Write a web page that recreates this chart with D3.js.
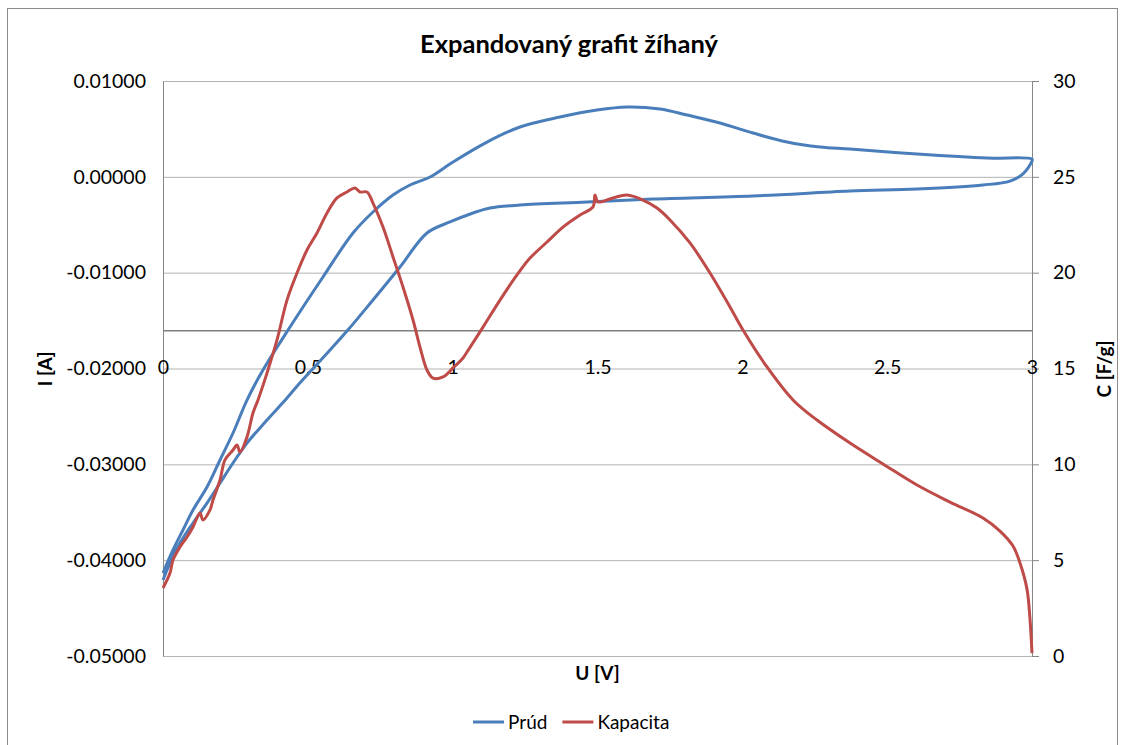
<!DOCTYPE html>
<meta charset="utf-8">
<body style="margin:0;background:#fff">
<div class="chart"></div>
<script src="https://cdnjs.cloudflare.com/ajax/libs/d3/7.8.5/d3.min.js"></script>
<script>

    // Prúd: CV loop, [U (V), I (A)], anodic sweep 0 -> 3 V
    const prudForward = [
        [0, -0.04134], [0.0345, -0.03894], [0.069, -0.03685], [0.1036, -0.03477],
        [0.1519, -0.03237], [0.1968, -0.02955], [0.2417, -0.02673], [0.29, -0.02329],
        [0.3452, -0.02016], [0.4384, -0.01567], [0.5523, -0.01045], [0.6559, -0.00586],
        [0.7249, -0.00367], [0.794, -0.0019], [0.8527, -0.00085], [0.9217, -0.00002],
        [1.0011, 0.00155], [1.1185, 0.00363], [1.2324, 0.0052], [1.3705, 0.00624],
        [1.4983, 0.00697], [1.6018, 0.00729], [1.7157, 0.00708], [1.809, 0.00645],
        [1.9229, 0.00562], [2.0368, 0.00457], [2.1542, 0.00363], [2.2681, 0.00311],
        [2.3717, 0.0029], [2.603, 0.00238], [2.8446, 0.00196], [3.0, 0.00186]
    ];
    // cathodic sweep 3 -> 0 V
    const prudReverse = [
        [3.0, 0.00165], [2.9689, 0.0003], [2.924, -0.00044], [2.8308, -0.00085],
        [2.603, -0.00127], [2.3717, -0.00148], [2.0368, -0.002], [1.6916, -0.00231],
        [1.4637, -0.00263], [1.2324, -0.00294], [1.1289, -0.00325], [1.0702, -0.00377],
        [0.9908, -0.00471], [0.9114, -0.00586], [0.8182, -0.00941], [0.7249, -0.01285],
        [0.6352, -0.01609], [0.542, -0.01922], [0.4626, -0.02185], [0.4281, -0.02308],
        [0.359, -0.02538], [0.29, -0.02778], [0.2417, -0.02986], [0.1968, -0.03195],
        [0.1519, -0.03404], [0.1036, -0.03612], [0.0587, -0.03821], [0.0242, -0.0403],
        [0, -0.04207]
    ];
    // Kapacita: [U (V), C (F/g)]
    const kapacita = [
        [0, 3.55], [0.0242, 4.33], [0.0345, 5.01], [0.0587, 5.69], [0.0829, 6.21],
        [0.1036, 6.73], [0.1277, 7.46], [0.1381, 7.1], [0.1623, 7.62], [0.1726, 8.14],
        [0.1968, 9.18], [0.214, 10.23], [0.2417, 10.75], [0.2555, 11.01], [0.2658, 10.64],
        [0.29, 11.43], [0.3107, 12.68], [0.328, 13.36], [0.359, 14.76], [0.3936, 16.49],
        [0.4281, 18.57], [0.4626, 19.98], [0.4971, 21.18], [0.5316, 22.07], [0.5662, 23.11],
        [0.6007, 23.9], [0.6352, 24.21], [0.6628, 24.42], [0.6801, 24.21], [0.7042, 24.21],
        [0.7249, 23.63], [0.7595, 22.38], [0.794, 20.82], [0.8285, 19.25], [0.8631, 17.53],
        [0.8872, 16.12], [0.9114, 14.92], [0.9321, 14.5], [0.9666, 14.56], [1.0011, 15.03],
        [1.0357, 15.55], [1.0495, 15.86], [1.1047, 17.16], [1.1634, 18.57], [1.2221, 19.88],
        [1.267, 20.76], [1.3257, 21.6], [1.3809, 22.38], [1.4396, 23.01], [1.4845, 23.43],
        [1.4914, 24.05], [1.5017, 23.69], [1.5535, 23.9], [1.6018, 24.05], [1.6571, 23.79],
        [1.7054, 23.37], [1.7503, 22.75], [1.8193, 21.55], [1.8884, 19.98], [1.9574, 18.21],
        [2.0023, 17.01], [2.0851, 15.08], [2.1749, 13.36], [2.2577, 12.31], [2.3717, 11.11],
        [2.4856, 10.02], [2.603, 8.92], [2.7169, 8.03], [2.8308, 7.2], [2.8895, 6.52],
        [2.9344, 5.74], [2.9586, 4.85], [2.9827, 3.49], [2.9931, 1.93], [3.0, 0.15]
    ];

    const uTicks = [0, 0.5, 1, 1.5, 2, 2.5, 3];
    const iTicks = [0.01, 0, -0.01, -0.02, -0.03, -0.04, -0.05];
    const cTicks = [30, 25, 20, 15, 10, 5, 0];
    const axisCross = 17; // horizontal axis crosses the secondary axis here

    const series = [
        {name: "Prúd", color: "#4a7ebb"},
        {name: "Kapacita", color: "#be4b48"}
    ];

    let margin = {top: 81, right: 91, bottom: 89, left: 163};
    let width = 1123;
    let height = 745;
    let chartWidth = width - margin.left - margin.right;
    let chartHeight = height - margin.top - margin.bottom;
    let font = "Lato, 'Open Sans', sans-serif";

    let svg = d3.select(".chart").append("svg")
        .attr("width", width)
        .attr("height", height)
        .style("display", "block")
        .style("font-family", font);

    // chart area border
    svg.append("rect")
        .attr("x", 7.5).attr("y", 8.5)
        .attr("width", 1110).attr("height", 760)
        .attr("fill", "none")
        .attr("stroke", "#8c8c8c");

    svg.append("text")
        .attr("x", 569).attr("y", 53)
        .attr("text-anchor", "middle")
        .style("font-weight", "bold")
        .style("font-size", "25.5px")
        .text("Expandovaný grafit žíhaný");

    let g = svg.append("g")
        .attr("transform", `translate(${margin.left},${margin.top})`);

    let x = d3.scaleLinear().domain([0, 3]).range([0, chartWidth]);
    let yI = d3.scaleLinear().domain([-0.05, 0.01]).range([chartHeight, 0]);
    let yC = d3.scaleLinear().domain([0, 30]).range([chartHeight, 0]);

    // gridlines
    g.append("g")
        .call(d3.axisLeft(yI).tickValues(iTicks).tickSize(-chartWidth).tickFormat(""))
        .call(s => s.select(".domain").remove())
        .selectAll("line").attr("stroke", "#b3b3b3");

    // left axis
    let left = g.append("g")
        .call(d3.axisLeft(yI).tickValues(iTicks).tickSize(0).tickSizeOuter(0).tickPadding(17)
            .tickFormat(d => d.toFixed(5)));
    left.select(".domain").attr("stroke", "#868686");
    left.selectAll("text").style("font-size", "19.5px").attr("fill", "#000").style("font-family", font);

    // right axis
    let right = g.append("g")
        .attr("transform", `translate(${chartWidth},0)`)
        .call(d3.axisRight(yC).tickValues(cTicks).tickSize(7).tickSizeOuter(0).tickPadding(14));
    right.select(".domain").attr("stroke", "#868686");
    right.selectAll("line").attr("stroke", "#868686");
    right.selectAll("text").style("font-size", "19.5px").attr("fill", "#000").style("font-family", font);

    // horizontal axis
    let bottom = g.append("g")
        .attr("transform", `translate(0,${yC(axisCross)})`)
        .call(d3.axisBottom(x).tickValues(uTicks).tickSize(0).tickSizeOuter(0).tickFormat(d => String(d)));
    bottom.select(".domain").attr("stroke", "#7f7f7f").attr("stroke-width", 1.5);
    bottom.selectAll("text")
        .attr("y", 37).attr("dy", "0.35em")
        .style("font-size", "19.5px").attr("fill", "#000").style("font-family", font);

    // series
    let lineI = d3.line()
        .x(d => x(d[0])).y(d => yI(d[1]))
        .curve(d3.curveCatmullRom.alpha(0.5));
    let lineC = d3.line()
        .x(d => x(d[0])).y(d => yC(d[1]))
        .curve(d3.curveCatmullRom.alpha(0.5));

    g.append("path")
        .datum(prudForward.concat(prudReverse))
        .attr("d", lineI)
        .attr("fill", "none")
        .attr("stroke", series[0].color)
        .attr("stroke-width", 3)
        .attr("stroke-linejoin", "round");

    g.append("path")
        .datum(kapacita)
        .attr("d", lineC)
        .attr("fill", "none")
        .attr("stroke", series[1].color)
        .attr("stroke-width", 3)
        .attr("stroke-linejoin", "round");

    // axis titles
    svg.append("text")
        .attr("transform", "translate(45,369) rotate(-90)")
        .attr("text-anchor", "middle").attr("dy", "0.35em")
        .style("font-weight", "bold").style("font-size", "19px")
        .text("I [A]");
    svg.append("text")
        .attr("transform", "translate(1104,369) rotate(-90)")
        .attr("text-anchor", "middle").attr("dy", "0.35em")
        .style("font-weight", "bold").style("font-size", "19px")
        .text("C [F/g]");
    svg.append("text")
        .attr("x", margin.left + chartWidth / 2).attr("y", 673)
        .attr("text-anchor", "middle").attr("dy", "0.35em")
        .style("font-weight", "bold").style("font-size", "19px")
        .text("U [V]");

    // legend
    let lx = 473;
    series.forEach(s => {
        svg.append("line")
            .attr("x1", lx).attr("x2", lx + 31)
            .attr("y1", 722).attr("y2", 722)
            .attr("stroke", s.color).attr("stroke-width", 3);
        let t = svg.append("text")
            .attr("x", lx + 35).attr("y", 722).attr("dy", "0.35em")
            .style("font-size", "19px")
            .text(s.name);
        lx += 35 + t.node().getComputedTextLength() + 15;
    });

</script>
